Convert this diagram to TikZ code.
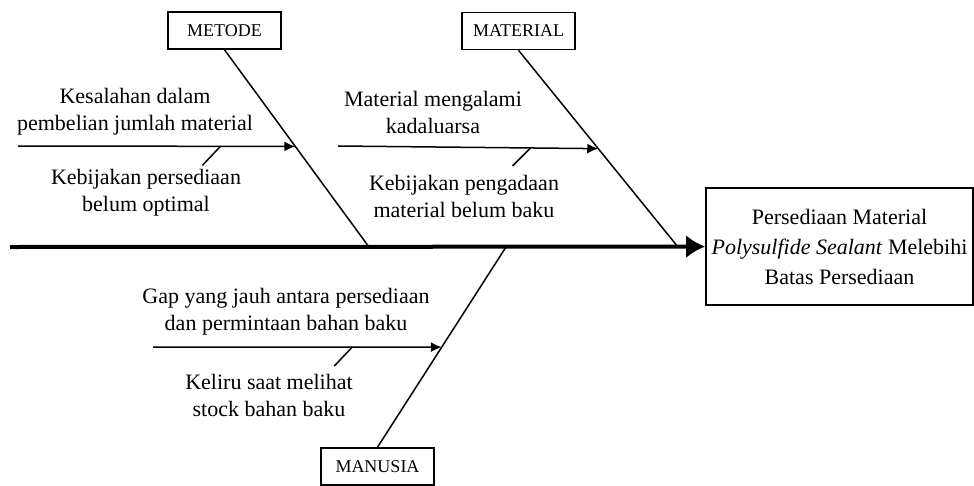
\documentclass[tikz,border=0pt]{standalone}
\usepackage{fontspec}
\setmainfont{Liberation Serif}
\usetikzlibrary{positioning,calc,arrows.meta}
\tikzset{cat/.style={draw, line width=1.6pt, minimum width=113pt, minimum height=37pt, inner sep=0pt, font=\fontsize{18}{20}\selectfont},
         cause/.style={align=center, inner sep=0pt, font=\fontsize{22}{27}\selectfont},
         bone/.style={line width=1.5pt},
         sub/.style={line width=1.5pt, -{Latex[length=11pt,width=10pt]}}}

\begin{document}
\begin{tikzpicture}[x=1pt, y=-1pt]
           \useasboundingbox (0,0) rectangle (974,485);

           \node (effect) [draw, line width=1.6pt, minimum width=267pt, minimum height=117pt, inner sep=0pt,
                 align=center, font=\fontsize{22}{30}\selectfont] at (839.5,246.5)
                 {Persediaan Material\\\textit{Polysulfide Sealant} Melebihi\\Batas Persediaan};
           \coordinate (tail) at (10,247);
           \draw[line width=4pt, -{Latex[length=19pt,width=23pt]}] (tail) -- (effect);

           \node (metode) [cat] at (224.5,30.5) {METODE};
           \node (material) [cat] at (518.5,31) {MATERIAL};
           \node (manusia) [cat] at (377.5,466.5) {MANUSIA};

           \coordinate (metodeEnd) at (369,247);
           \coordinate (materialEnd) at (678,247);
           \coordinate (manusiaEnd) at (506,247);

           \draw[bone] (metode.south) -- (metodeEnd);
           \draw[bone] (material.south) -- (materialEnd);
           \draw[bone] (manusia.north) -- (manusiaEnd);

           \coordinate (metodeA) at (18,146);
           \coordinate (metodeB) at ($(metode.south)!0.49!(metodeEnd)$);
           \coordinate (materialA) at (338,146);
           \coordinate (materialB) at ($(material.south)!0.5!(materialEnd)$);
           \coordinate (manusiaA) at (153,347);
           \coordinate (manusiaB) at ($(manusia.north)!0.5!(manusiaEnd)$);

           \draw[sub] (metodeA) -- (metodeB);
           \draw[sub] (materialA) -- (materialB);
           \draw[sub] (manusiaA) -- (manusiaB);

           \node (kesalahan) [cause] at (135,112) {Kesalahan dalam\\pembelian jumlah material};
           \node (kebijakan) [cause] at (146,193) {Kebijakan persediaan\\belum optimal};
           \node (kadaluarsa) [cause] at (433,112) {Material mengalami\\kadaluarsa};
           \node (pengadaan) [cause] at (464,196) {Kebijakan pengadaan\\material belum baku};
           \node (gap) [cause] at (286,312) {Gap yang jauh antara persediaan\\dan permintaan bahan baku};
           \node (keliru) [cause] at (269,395) {Keliru saat melihat\\stock bahan baku};

           \coordinate (kebijakanT) at ($(metodeA)!0.73!(metodeB)$);
           \coordinate (pengadaanT) at ($(materialA)!0.74!(materialB)$);
           \coordinate (keliruT) at ($(manusiaA)!0.69!(manusiaB)$);

           \draw[bone] (kebijakanT) -- ++(-18,19);
           \draw[bone] (pengadaanT) -- ++(-18,18);
           \draw[bone] (keliruT) -- ++(-18,19);

         \end{tikzpicture}
\end{document}
